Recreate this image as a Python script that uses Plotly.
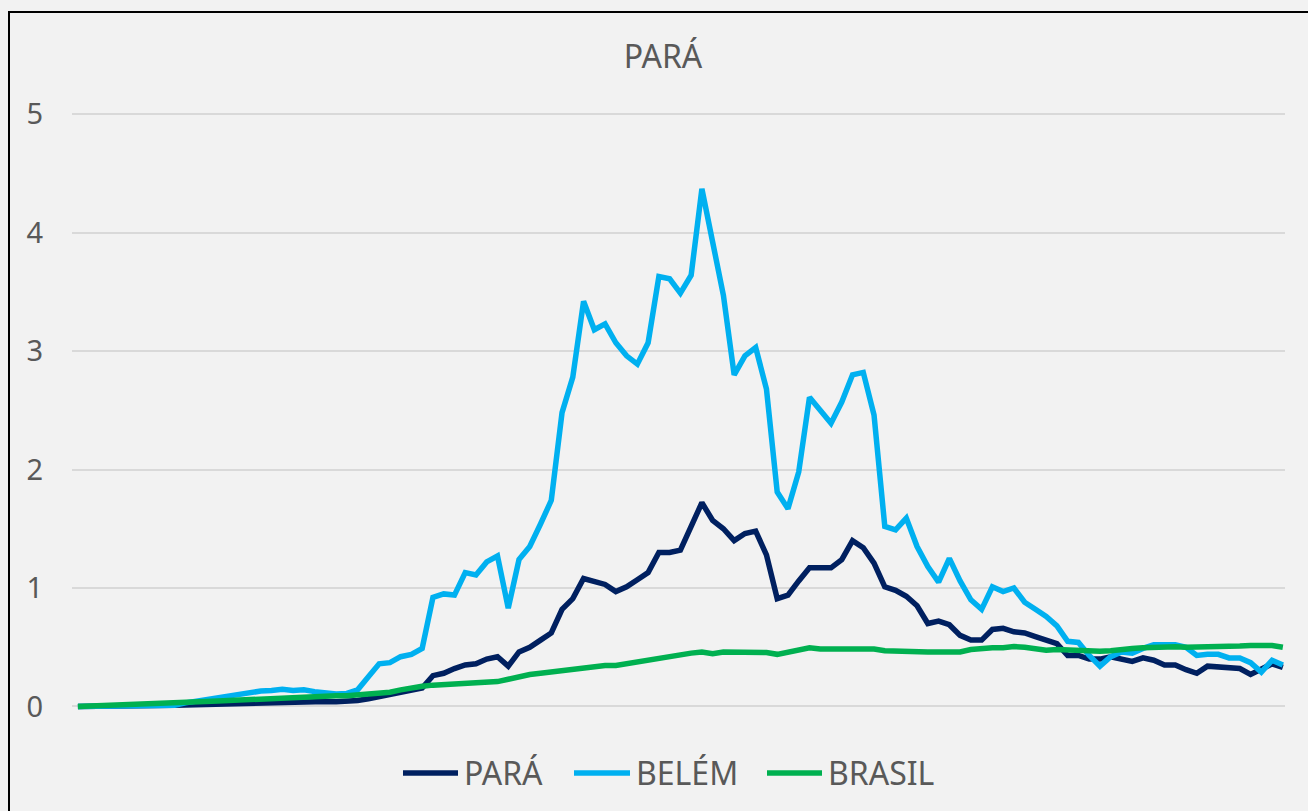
import plotly.graph_objects as go

# valores (113 pontos, eixo x sem rótulos)
para = [
    0.0, 0.0, 0.0, 0.0, 0.002, 0.004, 0.006, 0.008, 0.01, 0.01,
    0.012, 0.015, 0.018, 0.02, 0.022, 0.025, 0.028, 0.03, 0.033, 0.036,
    0.04, 0.045, 0.043, 0.042, 0.04, 0.042, 0.05, 0.065, 0.085, 0.10,
    0.12, 0.145, 0.155, 0.26, 0.28, 0.32, 0.35, 0.36, 0.40, 0.42,
    0.34, 0.46, 0.50, 0.56, 0.62, 0.82, 0.91, 1.08, 1.05, 1.03,
    0.97, 1.01, 1.07, 1.13, 1.30, 1.30, 1.32, 1.52, 1.72, 1.57,
    1.50, 1.40, 1.46, 1.48, 1.28, 0.91, 0.94, 1.06, 1.17, 1.17,
    1.17, 1.24, 1.40, 1.34, 1.21, 1.01, 0.98, 0.93, 0.85, 0.70,
    0.72, 0.69, 0.60, 0.56, 0.56, 0.65, 0.66, 0.63, 0.62, 0.59,
    0.56, 0.53, 0.43, 0.43, 0.40, 0.40, 0.42, 0.40, 0.38, 0.41,
    0.39, 0.35, 0.35, 0.31, 0.28, 0.34, 0.33, 0.32, 0.32, 0.27,
    0.31, 0.36, 0.33,
]
belem = [
    0.0, 0.0, 0.0, 0.0, 0.0, 0.0, 0.0, 0.002, 0.005, 0.01,
    0.03, 0.045, 0.065, 0.08, 0.095, 0.11, 0.115, 0.13, 0.135, 0.145,
    0.135, 0.14, 0.125, 0.115, 0.105, 0.11, 0.14, 0.25, 0.36, 0.37,
    0.42, 0.44, 0.49, 0.92, 0.95, 0.94, 1.13, 1.11, 1.22, 1.27,
    0.83, 1.24, 1.35, 1.54, 1.74, 2.48, 2.78, 3.42, 3.18, 3.23,
    3.07, 2.96, 2.89, 3.07, 3.63, 3.61, 3.49, 3.64, 4.37, 3.92,
    3.47, 2.80, 2.96, 3.03, 2.68, 1.81, 1.67, 1.98, 2.61, 2.50,
    2.39, 2.57, 2.80, 2.82, 2.46, 1.52, 1.49, 1.59, 1.35, 1.18,
    1.05, 1.25, 1.06, 0.90, 0.82, 1.01, 0.97, 1.00, 0.88, 0.82,
    0.76, 0.68, 0.55, 0.54, 0.43, 0.34, 0.42, 0.46, 0.45, 0.49,
    0.52, 0.52, 0.52, 0.50, 0.43, 0.44, 0.44, 0.41, 0.41, 0.37,
    0.29, 0.39, 0.35,
]
brasil = [
    0.0, 0.003, 0.005, 0.008, 0.01, 0.012, 0.015, 0.018, 0.02, 0.025,
    0.03, 0.035, 0.04, 0.045, 0.05, 0.055, 0.06, 0.063, 0.066, 0.07,
    0.075, 0.08, 0.085, 0.09, 0.09, 0.09, 0.095, 0.10, 0.11, 0.12,
    0.14, 0.16, 0.17, 0.18, 0.185, 0.19, 0.19, 0.195, 0.20, 0.21,
    0.23, 0.255, 0.27, 0.28, 0.29, 0.31, 0.32, 0.33, 0.34, 0.345,
    0.345, 0.36, 0.38, 0.40, 0.41, 0.43, 0.44, 0.45, 0.46, 0.445,
    0.46, 0.46, 0.465, 0.465, 0.455, 0.44, 0.46, 0.475, 0.495, 0.485,
    0.485, 0.49, 0.49, 0.49, 0.485, 0.47, 0.465, 0.46, 0.465, 0.46,
    0.46, 0.46, 0.46, 0.48, 0.49, 0.495, 0.495, 0.505, 0.50, 0.49,
    0.475, 0.48, 0.475, 0.47, 0.465, 0.465, 0.47, 0.485, 0.49, 0.495,
    0.50, 0.50, 0.505, 0.50, 0.50, 0.50, 0.50, 0.505, 0.51, 0.515,
    0.52, 0.515, 0.50,
]
x = list(range(len(para)))

series = [
    ("PARÁ", para, "#002060"),
    ("BELÉM", belem, "#00B0F0"),
    ("BRASIL", brasil, "#00B050"),
]

W, H = 1308, 811
ML, MR, MT, MB = 72, 23, 113, 101
text_color = "#595959"


def px_x(p):
    # pixel horizontal -> coordenada paper
    return (p - ML) / (W - ML - MR)


def px_y(p):
    # pixel vertical -> coordenada paper
    return (H - MB - p) / (H - MT - MB)


fig = go.Figure()

for name, values, color in series:
    fig.add_trace(go.Scatter(
        x=x,
        y=values,
        mode="lines",
        name=name,
        line=dict(color=color, width=5.5),
        showlegend=False,
    ))

# legenda desenhada à mão (linhas mais longas, como no Excel)
legend_pos = [(403, 458, 463), (574, 630, 635), (767, 822, 827)]
legend_y = 773
for (name, _, color), (l0, l1, tx) in zip(series, legend_pos):
    fig.add_shape(
        type="line", xref="paper", yref="paper",
        x0=px_x(l0), x1=px_x(l1), y0=px_y(legend_y), y1=px_y(legend_y),
        line=dict(color=color, width=5.5),
    )
    fig.add_annotation(
        text=name, xref="paper", yref="paper",
        x=px_x(tx), y=px_y(legend_y), xanchor="left", yanchor="middle",
        showarrow=False, font=dict(size=32, color=text_color),
        borderpad=0,
    )

fig.update_layout(
    width=W,
    height=H,
    paper_bgcolor="#f2f2f2",
    plot_bgcolor="#f2f2f2",
    font=dict(family="Noto Sans", color=text_color),
    margin=dict(l=ML, r=MR, t=MT, b=MB, pad=0),
    title=dict(
        text="PARÁ",
        font=dict(size=32, color=text_color),
        x=663 / W, xanchor="center", xref="container",
        y=1 - 57 / H, yanchor="middle", yref="container",
    ),
    xaxis=dict(
        range=[-0.55, 112.2],
        showgrid=False,
        showticklabels=False,
        zeroline=False,
        showline=False,
        ticks="",
    ),
    yaxis=dict(
        range=[-0.03, 5.01],
        tickvals=[0, 1, 2, 3, 4, 5],
        showgrid=True,
        gridcolor="#d9d9d9",
        gridwidth=1.5,
        zeroline=False,
        showline=False,
        ticks="",
        tickfont=dict(size=29, color=text_color),
        ticklabelstandoff=28,
    ),
    showlegend=False,
)

# borda da área do gráfico
fig.add_shape(
    type="rect",
    xref="paper", yref="paper",
    x0=px_x(9), x1=px_x(1330), y0=px_y(830), y1=px_y(12),
    line=dict(color="black", width=2),
    fillcolor="rgba(0,0,0,0)",
    layer="below",
)

fig.write_html(
    "out.html",
    config={"displayModeBar": False},
    post_script="document.body.style.margin='0';document.body.style.overflow='hidden';",
)
